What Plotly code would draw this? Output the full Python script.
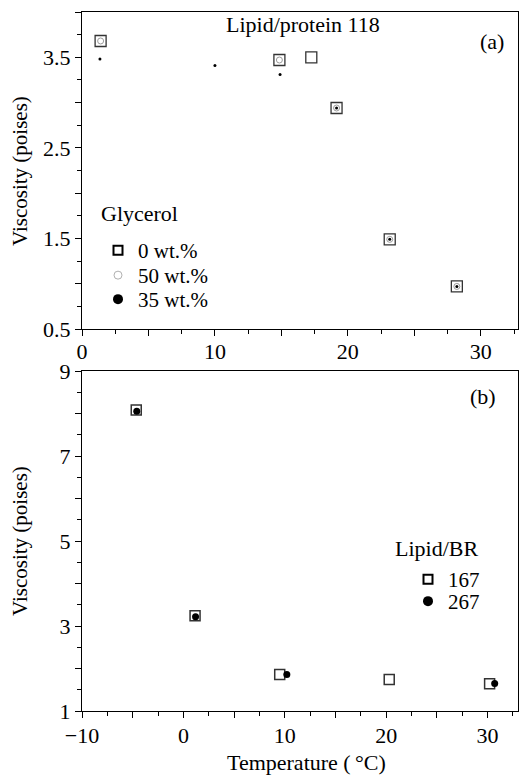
import plotly.graph_objects as go

# ---------------- data ----------------
# Panel (a): Lipid/protein 118, viscosity vs temperature for glycerol contents
a_g0_x = [1.4, 14.85, 17.25, 19.15, 23.15, 28.2]
a_g0_y = [3.68, 3.47, 3.50, 2.94, 1.49, 0.97]
a_g50_x = [1.4, 14.85, 19.15, 23.15, 28.2]
a_g50_y = [3.68, 3.47, 2.94, 1.49, 0.97]
a_g35_x = [1.35, 10.0, 14.9, 19.15, 23.15, 28.2]
a_g35_y = [3.48, 3.41, 3.31, 2.94, 1.49, 0.97]

# Panel (b): Lipid/BR ratios
b_167_x = [-4.65, 1.15, 9.5, 20.3, 30.2]
b_167_y = [8.08, 3.24, 1.86, 1.74, 1.64]
b_267_x = [-4.6, 1.2, 10.2, 30.7]
b_267_y = [8.05, 3.22, 1.86, 1.65]

# tick labels
xa_vals = [0, 5, 10, 15, 20, 25, 30]
xa_text = ["0", "", "10", "", "20", "", "30"]
ya_vals = [0.5, 1.0, 1.5, 2.0, 2.5, 3.0, 3.5, 4.0]
ya_text = ["0.5", "", "1.5", "", "2.5", "", "3.5", ""]
xb_vals = [-10, -5, 0, 5, 10, 15, 20, 25, 30]
xb_text = ["\u221210", "", "0", "", "10", "", "20", "", "30"]
yb_vals = [1, 2, 3, 4, 5, 6, 7, 8, 9]
yb_text = ["1", "", "3", "", "5", "", "7", "", "9"]

FONT = "Liberation Serif"
W, H = 519, 777
PL, PR, PT, PB = 82, 518, 12, 711  # plot-area edges in page pixels
ML, MR, MT, MB = PL, W - PR, PT, H - PB
PW, PH = PR - PL, PB - PT


def px2paper(px, py):
    return (px - PL) / PW, (PB - py) / PH


fig = go.Figure()

# ---- panel (a) traces ----
fig.add_trace(go.Scatter(x=a_g0_x, y=a_g0_y, mode="markers", xaxis="x", yaxis="y",
                         marker=dict(symbol="square-open", size=11, color="#333",
                                     line=dict(width=1.3)), showlegend=False))
fig.add_trace(go.Scatter(x=a_g50_x, y=a_g50_y, mode="markers", xaxis="x", yaxis="y",
                         marker=dict(symbol="circle-open", size=6, color="#9a9a9a",
                                     line=dict(width=1)), showlegend=False))
fig.add_trace(go.Scatter(x=a_g35_x, y=a_g35_y, mode="markers", xaxis="x", yaxis="y",
                         marker=dict(symbol="circle", size=3, color="black"), showlegend=False))

# ---- panel (b) traces ----
fig.add_trace(go.Scatter(x=b_167_x, y=b_167_y, mode="markers", xaxis="x2", yaxis="y2",
                         marker=dict(symbol="square-open", size=10, color="#333",
                                     line=dict(width=1.5)), showlegend=False))
fig.add_trace(go.Scatter(x=b_267_x, y=b_267_y, mode="markers", xaxis="x2", yaxis="y2",
                         marker=dict(symbol="circle", size=7, color="black"), showlegend=False))

# ---- legend entries (one legend per entry for precise placement) ----
legend_items = [
    ("0 wt.%", dict(symbol="square-open", size=9, color="black", line=dict(width=2)), (116, 248)),
    ("50 wt.%", dict(symbol="circle-open", size=8, color="#b0b0b0", line=dict(width=1)), (116, 273)),
    ("35 wt.%", dict(symbol="circle", size=10, color="black"), (116, 297)),
    ("167", dict(symbol="square-open", size=9, color="black", line=dict(width=2)), (426, 577)),
    ("267", dict(symbol="circle", size=10, color="black"), (426, 599)),
]
legend_layout = {}
for i, (name, mk, (sx, sy)) in enumerate(legend_items):
    key = "legend" if i == 0 else f"legend{i + 1}"
    fig.add_trace(go.Scatter(x=[None], y=[None], mode="markers", name=name, marker=mk,
                             legend=key, showlegend=True, xaxis="x", yaxis="y"))
    lx, ly = px2paper(sx - 18, sy - 18)
    legend_layout[key] = dict(x=lx, y=ly, xanchor="left", yanchor="top",
                              bgcolor="rgba(0,0,0,0)", borderwidth=0,
                              font=dict(family=FONT, size=21, color="black"))

axis_common = dict(showline=True, linecolor="black", linewidth=1.3, mirror=True,
                   ticks="outside", ticklen=6, tickwidth=1.1, tickcolor="black",
                   showgrid=False, zeroline=False,
                   tickfont=dict(family=FONT, size=22, color="black"))

fig.update_layout(
    width=W, height=H,
    margin=dict(l=ML, r=MR, t=MT, b=MB, autoexpand=False),
    paper_bgcolor="white", plot_bgcolor="white",
    font=dict(family=FONT, size=21, color="black"),
    xaxis=dict(domain=[0, 1], anchor="y", range=[0, 32.8], tickmode="array",
               tickvals=xa_vals, ticktext=xa_text, ticklabelstandoff=-4,
               minor=dict(dtick=2.5, tick0=0, ticks="outside", ticklen=4, tickcolor="black"),
               **axis_common),
    yaxis=dict(domain=[px2paper(0, 329)[1], 1], anchor="x", range=[0.5, 4.0], tickmode="array",
               tickvals=ya_vals, ticktext=ya_text,
               minor=dict(dtick=0.25, tick0=0.5, ticks="outside", ticklen=4, tickcolor="black"),
               **axis_common),
    xaxis2=dict(domain=[0, 1], anchor="y2", range=[-10, 33.0], tickmode="array",
                tickvals=xb_vals, ticktext=xb_text, ticklabelstandoff=-2,
                minor=dict(dtick=2.5, tick0=0, ticks="outside", ticklen=4, tickcolor="black"),
                **axis_common),
    yaxis2=dict(domain=[0, px2paper(0, 371)[1]], anchor="x2", range=[1, 9], tickmode="array",
                tickvals=yb_vals, ticktext=yb_text,
                minor=dict(dtick=0.5, tick0=1, ticks="outside", ticklen=4, tickcolor="black"),
                **axis_common),
    **legend_layout,
)


def ann(text, px, py, xanchor="center", yanchor="middle", angle=0, size=22):
    x, y = px2paper(px, py)
    fig.add_annotation(text=text, x=x, y=y, xref="paper", yref="paper", showarrow=False,
                       xanchor=xanchor, yanchor=yanchor, textangle=angle,
                       font=dict(family=FONT, size=size, color="black"))


ann("Lipid/protein 118", 303, 24)
ann("(a)", 492, 41)
ann("Glycerol", 99, 213, xanchor="left")
ann("(b)", 483, 397)
ann("Lipid/BR", 393, 548, xanchor="left")
ann("Viscosity (poises)", 20, 171, angle=-90, size=21)
ann("Viscosity (poises)", 20, 541, angle=-90, size=21)
ann("Temperature (\u2009\u00b0C)", 306, 762, size=22)

fig.write_html("out.html", config={"displayModeBar": False},
               post_script="document.body.style.margin='0';document.body.style.overflow='hidden';")
